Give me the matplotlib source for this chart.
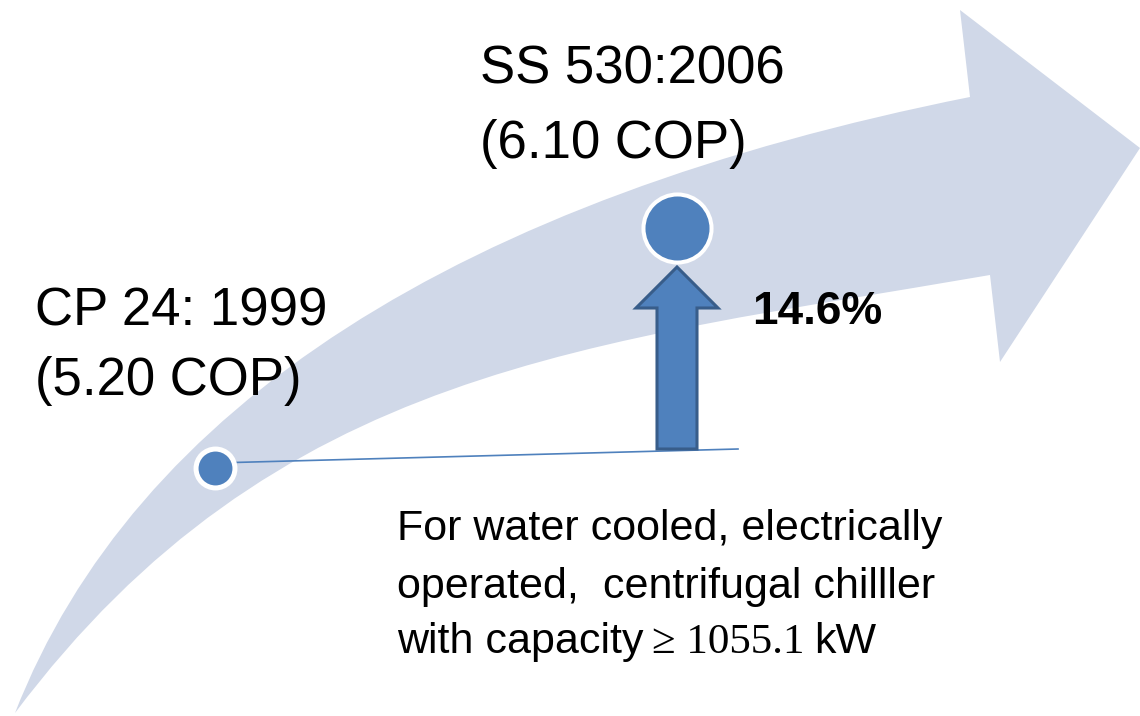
import matplotlib
matplotlib.use("Agg")
import matplotlib.pyplot as plt
from matplotlib.path import Path
from matplotlib.patches import PathPatch, FancyArrow

# data
standards = ["CP 24: 1999", "SS 530:2006"]
years = [1999, 2006]
cop = [5.20, 6.10]
improvement = 14.6
note = ["For water cooled, electrically",
        "operated,  centrifugal chilller",
        "with capacity"]
capacity = 1055.1

SANS = "Liberation Sans"
SERIF = "Liberation Serif"
BLUE = "#4F81BD"
DARK = "#385D8A"
PALE = "#D0D8E8"

W, H = 1140, 716
fig = plt.figure(figsize=(W / 100, H / 100), dpi=100)
ax = fig.add_axes([0, 0, 1, 1])
ax.set_xlim(0, W)
ax.set_ylim(H, 0)
ax.axis("off")


# pixel position of year / COP (one px per unit on the canvas)
def year_x(y):
    return 215 + (y - 1999) * 66


def cop_y(c):
    return 468 - (c - 5.20) * 240 / 0.9


# big curved background arrow
verts = [(15, 713), (135, 406), (460, 199), (970, 97),
         (960, 10), (1140, 148), (1000, 362), (990, 275),
         (590, 344), (275, 367), (15, 713), (15, 713)]
codes = [Path.MOVETO, Path.CURVE4, Path.CURVE4, Path.CURVE4,
         Path.LINETO, Path.LINETO, Path.LINETO, Path.LINETO,
         Path.CURVE4, Path.CURVE4, Path.CURVE4, Path.CLOSEPOLY]
ax.add_patch(PathPatch(Path(verts, codes), facecolor=PALE, edgecolor="none", zorder=1))

x0, x1 = year_x(years[0]), year_x(years[1])
y0, y1 = cop_y(cop[0]), cop_y(cop[1])

# thin baseline from the first dot
ax.plot([x0, 738], [y0 - 5, 449], color=BLUE, lw=1.2, zorder=2)

# up arrow showing the improvement
ax.add_patch(FancyArrow(x1, 449, 0, -(449 - (y1 + 39)), width=40, head_width=82,
                        head_length=41, length_includes_head=True,
                        facecolor=BLUE, edgecolor=DARK, lw=2.2, zorder=3))

# dots
ax.plot([x0], [y0], "o", ms=28, mfc=BLUE, mec="white", mew=3.6, zorder=4)
ax.plot([x1], [y1], "o", ms=49, mfc=BLUE, mec="white", mew=2.9, zorder=4)

# labels
ax.text(35, 325, standards[0], fontsize=38, family=SANS, zorder=5)
ax.text(35, 395, f"({cop[0]:.2f} COP)", fontsize=38, family=SANS, zorder=5)
ax.text(480, 83, standards[1], fontsize=38, family=SANS, zorder=5)
ax.text(480, 158, f"({cop[1]:.2f} COP)", fontsize=38, family=SANS, zorder=5)
ax.text(752, 324, f"{improvement}%", fontsize=33, family=SANS, weight="bold", zorder=5)

for i, line in enumerate(note):
    t = ax.text(397, [540, 598, 653][i], line, fontsize=31, family=SANS, zorder=5)

# last line mixes fonts: "≥ 1055.1" in serif, then "kW"
fig.canvas.draw()
r = fig.canvas.get_renderer()
end = t.get_window_extent(r).x1
t2 = ax.text(end + 8, 653, f"\u2265 {capacity}", fontsize=31, family=SERIF, zorder=5)
fig.canvas.draw()
end = t2.get_window_extent(r).x1
ax.text(end + 10, 653, "kW", fontsize=31, family=SANS, zorder=5)

fig.savefig("out.png", dpi=100)
